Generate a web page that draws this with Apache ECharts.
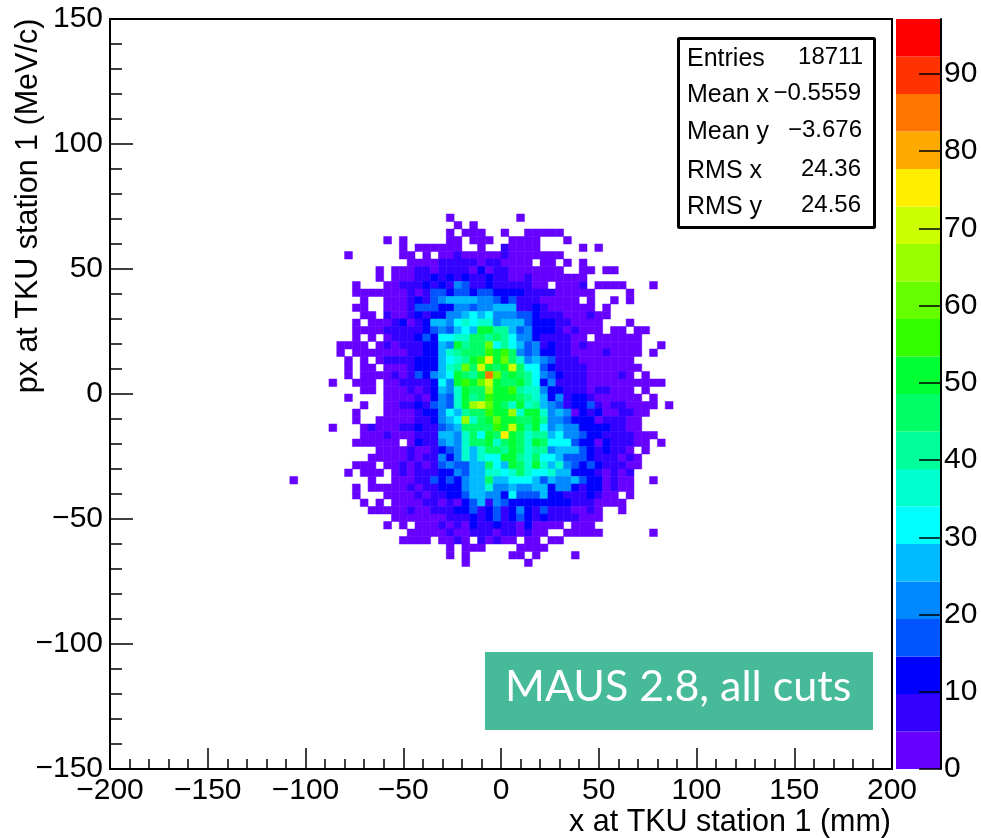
<!DOCTYPE html>
<html>
<head>
<meta charset="utf-8">
<style>html,body{margin:0;padding:0;background:#fff}#c{width:981px;height:838px}</style>
<script src="https://cdn.jsdelivr.net/npm/echarts@6/dist/echarts.min.js"></script>
</head>
<body>
<div id="c"></div>
<script>
const xBinCenters = [-110,-106,-102,-98,-94,-90,-86,-82,-78,-74,-70,-66,-62,-58,-54,-50,-46,-42,-38,-34,-30,-26,-22,-18,-14,-10,-6,-2,2,6,10,14,18,22,26,30,34,38,42,46,50,54,58,62,66,70,74,78,82,86];
const yBinCenters = [70.5,67.5,64.5,61.5,58.5,55.5,52.5,49.5,46.5,43.5,40.5,37.5,34.5,31.5,28.5,25.5,22.5,19.5,16.5,13.5,10.5,7.5,4.5,1.5,-1.5,-4.5,-7.5,-10.5,-13.5,-16.5,-19.5,-22.5,-25.5,-28.5,-31.5,-34.5,-37.5,-40.5,-43.5,-46.5,-49.5,-52.5,-55.5,-58.5,-61.5,-64.5,-67.5];
const counts = [
[0,0,0,0,0,0,0,0,0,0,0,0,0,0,0,0,0,0, 0,0,0,2,0,0,0,0,0,0,0,0,2,0,0,0,0,0, 0,0,0,0,0,0,0,0,0,0,0,0,0,0],
[0,0,0,0,0,0,0,0,0,0,0,0,0,0,0,0,0,0, 0,0,0,0,2,0,2,0,0,0,0,0,0,0,0,0,0,0, 0,0,0,0,0,0,0,0,0,0,0,0,0,0],
[0,0,0,0,0,0,0,0,0,0,0,0,0,0,0,0,0,0, 0,0,0,2,0,2,2,2,0,0,2,0,0,2,2,2,2,2, 0,0,0,0,0,0,0,0,0,0,0,0,0,0],
[0,0,0,0,0,0,0,0,0,0,0,0,0,2,0,2,0,0, 0,0,0,2,2,0,2,2,2,0,0,2,2,2,2,0,0,0, 2,0,0,0,0,0,0,0,0,0,0,0,0,0],
[0,0,0,0,0,0,0,0,0,0,0,0,0,0,0,2,0,2, 2,2,2,2,2,0,0,2,0,0,7,2,2,2,2,0,0,0, 0,0,2,0,2,0,0,0,0,0,0,0,0,0],
[0,0,0,0,0,0,0,0,2,0,0,0,0,0,0,2,2,0, 2,0,2,2,7,2,2,2,2,2,7,2,2,2,2,2,2,2, 0,0,0,0,0,0,0,0,0,0,0,0,0,0],
[0,0,0,0,0,0,0,0,0,0,0,0,0,0,0,0,2,2, 2,2,7,7,7,7,7,2,7,7,2,2,2,2,0,2,2,0, 2,0,2,0,0,0,0,0,0,0,0,0,0,0],
[0,0,0,0,0,0,0,0,0,0,0,0,2,0,2,2,2,7, 7,2,7,7,7,7,2,12,2,7,7,2,2,2,2,2,2,2, 0,0,2,2,0,2,2,0,0,0,0,0,0,0],
[0,0,0,0,0,0,0,0,0,0,0,0,2,0,2,2,2,7, 7,12,7,12,7,12,7,7,12,7,7,2,2,7,2,2,2,2, 2,2,2,0,0,0,0,0,0,0,0,0,0,0],
[0,0,0,0,0,0,0,0,0,2,0,0,0,2,2,7,7,7, 12,7,12,7,22,17,7,7,12,7,7,7,7,7,2,2,0,2, 2,2,7,0,2,2,2,2,0,0,0,2,0,0],
[0,0,0,0,0,0,0,0,0,2,2,2,2,2,2,2,7,2, 7,17,17,12,17,17,12,17,17,12,12,12,12,7,7,7,7,2, 2,2,2,2,0,0,0,0,2,0,0,0,0,0],
[0,0,0,0,0,0,0,0,0,0,2,0,0,2,2,2,7,12, 7,17,22,27,27,27,27,22,22,17,12,17,7,7,7,2,2,2, 2,2,0,2,0,0,2,0,2,0,0,0,0,0],
[0,0,0,0,0,0,0,0,0,2,2,0,0,2,2,2,7,17, 17,17,12,12,22,22,17,22,22,27,27,27,7,7,12,7,2,2, 2,2,2,2,0,2,0,0,0,0,0,0,0,0],
[0,0,0,0,0,0,0,0,0,0,2,2,0,7,2,2,7,12, 7,12,12,22,22,27,32,27,32,22,22,22,17,17,12,7,7,7, 2,2,2,7,2,2,0,0,0,0,0,0,0,0],
[0,0,0,0,0,0,0,0,0,2,0,2,2,2,7,12,2,7, 12,27,27,22,32,36,32,36,36,22,27,27,27,17,12,12,12,7, 7,2,2,2,2,0,0,0,2,0,0,0,0,0],
[0,0,0,0,0,0,0,0,0,2,2,2,2,7,7,7,7,7, 12,17,22,17,27,32,27,51,51,41,41,27,17,22,12,12,12,7, 2,7,2,2,2,0,2,2,0,2,2,0,0,0],
[0,0,0,0,0,0,0,0,0,2,0,2,0,2,7,7,7,12, 17,12,32,32,36,36,46,46,41,46,41,32,22,22,12,7,7,7, 7,2,2,0,2,2,2,2,2,2,0,0,0,0],
[0,0,0,0,0,0,0,2,2,2,2,0,2,7,2,7,7,7, 12,12,27,22,51,41,46,46,61,32,41,32,27,17,22,7,12,7, 7,2,7,2,2,2,2,2,2,2,0,0,2,0],
[0,0,0,0,0,0,0,2,0,2,2,2,2,2,2,2,7,7, 12,12,27,36,41,46,46,46,56,51,56,46,22,17,22,12,12,7, 7,2,2,2,2,7,2,2,2,2,0,2,0,0],
[0,0,0,0,0,0,0,0,2,0,2,0,2,7,7,7,7,12, 12,12,27,32,36,41,51,56,75,51,61,46,36,22,27,22,17,7, 7,7,2,2,2,2,2,2,2,0,0,0,0,0],
[0,0,0,0,0,0,0,0,2,0,2,2,0,2,2,2,7,12, 12,12,27,36,41,61,46,70,51,46,51,70,46,32,32,17,12,7, 7,7,7,2,2,2,2,2,2,2,0,0,0,0],
[0,0,0,0,0,0,0,0,2,0,2,2,2,2,7,2,7,17, 12,22,27,32,51,46,41,51,85,61,46,51,46,41,32,22,17,12, 7,7,7,2,2,2,2,7,2,0,2,0,0,0],
[0,0,0,0,0,0,2,0,0,2,2,2,0,2,2,7,7,7, 7,12,32,22,51,56,51,61,70,51,46,46,51,41,32,12,22,7, 7,7,7,2,2,2,2,2,2,2,2,2,2,0],
[0,0,0,0,0,0,0,0,0,0,2,2,0,2,2,2,7,2, 7,12,27,22,36,51,46,46,66,51,51,56,41,36,36,22,12,12, 7,7,7,2,7,7,2,2,2,0,2,0,0,0],
[0,0,0,0,0,0,0,0,2,0,0,0,0,2,2,2,2,7, 2,12,22,17,36,51,41,46,56,51,51,51,46,41,36,27,12,22, 7,12,12,7,2,2,2,2,2,2,0,2,0,0],
[0,0,0,0,0,0,0,0,0,0,2,0,0,2,2,7,7,12, 7,17,22,17,36,51,66,70,61,51,46,36,51,36,41,27,22,17, 7,12,12,17,7,2,7,7,2,2,2,2,0,2],
[0,0,0,0,0,0,0,0,0,2,0,0,0,2,2,2,2,7, 12,12,22,32,27,41,46,46,56,51,51,66,36,51,51,36,22,27, 22,2,12,7,12,2,2,7,7,2,2,0,0,0],
[0,0,0,0,0,0,0,0,0,2,0,0,2,2,2,2,2,7, 7,12,22,27,32,66,36,46,51,61,51,51,46,46,51,41,22,22, 17,12,12,12,2,7,7,7,2,2,0,0,0,0],
[0,0,0,0,0,0,2,0,0,0,2,7,2,2,2,7,7,12, 7,7,17,22,27,46,46,46,46,56,51,70,51,41,51,32,22,27, 22,22,12,12,12,12,7,7,2,2,0,0,0,0],
[0,0,0,0,0,0,0,0,0,0,2,2,2,7,2,2,2,7, 7,7,27,27,22,36,46,32,51,46,75,51,46,36,41,41,27,32, 22,22,17,12,12,7,7,7,7,2,2,2,0,0],
[0,0,0,0,0,0,0,0,0,2,2,2,2,2,2,0,2,12, 7,7,22,27,22,36,46,46,51,36,46,51,46,36,51,46,32,32, 32,17,12,12,2,12,7,7,7,2,2,0,2,0],
[0,0,0,0,0,0,0,0,0,0,0,0,2,2,2,2,7,2, 2,7,12,17,22,36,27,36,46,46,41,51,46,36,41,41,22,27, 27,27,17,12,7,12,7,7,2,0,2,0,0,0],
[0,0,0,0,0,0,0,0,0,0,0,2,2,2,2,2,7,2, 7,7,22,12,22,36,27,36,32,32,51,51,41,36,46,32,32,27, 17,17,17,12,7,7,7,2,7,2,0,0,0,0],
[0,0,0,0,0,0,0,0,0,2,2,2,0,2,2,7,2,7, 2,7,17,22,17,17,27,27,46,32,27,51,46,36,51,36,27,36, 22,17,12,17,12,7,7,7,2,2,0,0,0,0],
[0,0,0,0,0,0,0,0,2,0,2,2,2,0,2,7,2,7, 7,7,12,12,22,17,27,27,36,36,32,36,46,36,32,32,36,27, 27,12,12,12,7,2,7,2,7,0,0,0,0,0],
[0,2,0,0,0,0,0,0,0,0,0,2,0,0,2,2,2,7, 7,17,12,17,12,22,27,27,46,27,27,32,32,32,27,17,27,22, 22,27,17,12,12,2,7,2,2,0,0,2,0,0],
[0,0,0,0,0,0,0,0,0,2,0,2,2,2,2,2,7,2, 7,7,12,12,12,22,27,27,36,22,22,27,22,22,27,27,12,22, 22,12,7,12,12,2,7,2,2,0,0,0,0,0],
[0,0,0,0,0,0,0,0,0,2,0,0,0,2,2,2,2,7, 2,7,7,12,12,17,27,27,22,22,12,32,17,17,17,27,12,12, 7,7,7,12,7,2,2,0,2,0,0,0,0,0],
[0,0,0,0,0,0,0,0,0,0,2,0,2,0,2,2,2,2, 7,7,2,7,2,12,17,27,7,22,17,12,12,12,12,12,12,12, 12,7,7,7,2,2,2,2,0,0,0,0,0,0],
[0,0,0,0,0,0,0,0,0,0,0,2,2,2,2,2,7,2, 2,7,7,7,12,12,17,7,12,17,7,12,22,12,7,17,7,7, 7,2,2,7,2,0,0,2,0,0,0,0,0,0],
[0,0,0,0,0,0,0,0,0,0,0,0,0,0,2,2,2,2, 2,2,2,7,7,7,12,7,12,17,7,12,17,12,7,12,7,7, 7,7,2,2,2,0,0,0,0,0,0,0,0,0],
[0,0,0,0,0,0,0,0,0,0,0,0,0,2,0,2,0,2, 2,2,7,2,7,2,12,7,7,12,7,7,2,12,2,2,2,2, 0,2,2,2,0,0,0,0,0,0,0,0,0,0],
[0,0,0,0,0,0,0,0,0,0,0,0,0,0,0,0,2,2, 2,2,2,7,2,2,7,7,7,2,7,7,2,7,2,2,0,0, 2,2,2,2,2,0,0,0,0,0,0,2,0,0],
[0,0,0,0,0,0,0,0,0,0,0,0,0,0,0,2,2,2, 2,0,2,2,7,2,0,7,2,7,2,2,0,2,2,0,2,2, 0,0,0,0,0,0,0,0,0,0,0,0,0,0],
[0,0,0,0,0,0,0,0,0,0,0,0,0,0,0,0,0,0, 0,0,0,2,0,2,2,2,0,0,0,0,2,2,2,2,0,0, 0,0,0,0,0,0,0,0,0,0,0,0,0,0],
[0,0,0,0,0,0,0,0,0,0,0,0,0,0,0,0,0,0, 0,0,0,2,0,2,0,0,0,0,0,2,2,0,2,0,0,0, 0,2,0,0,0,0,0,0,0,0,0,0,0,0],
[0,0,0,0,0,0,0,0,0,0,0,0,0,0,0,0,0,0, 0,0,0,0,0,2,0,0,0,0,0,0,0,2,0,0,0,0, 0,0,0,0,0,0,0,0,0,0,0,0,0,0]
];
const paletteColors = ['#6600ff','#3300ff','#0000ff','#0055ff','#0088ff','#00bbff','#00ffff','#00ffcc','#00ff99','#00ff66','#00ff33','#33ff00','#66ff00','#99ff00','#ccff00','#ffee00','#ffaa00','#ff7700','#ff3300','#ff0000'];
const zMax = 97.1;
const statsLabels = ['Entries','Mean x','Mean y','RMS x','RMS y'];
const statsValues = ['18711','\u22120.5559','\u22123.676','24.36','24.56'];
const xTitle = 'x at TKU station 1 (mm)';
const yTitle = 'px at TKU station 1 (MeV/c)';
const noteText = 'MAUS 2.8, all cuts';

const FONT = '"Liberation Sans", Arial, sans-serif';
const levelWidth = zMax / paletteColors.length;
const cellData = [];
counts.forEach((row, r) => row.forEach((v, c) => { if (v > 0) cellData.push([xBinCenters[c], yBinCenters[r], v]); }));
const barData = paletteColors.map((col, i) => [i * levelWidth, (i + 1) * levelWidth, i]);
const fmt = v => String(v).replace('-', '\u2212');
const stats = [];
const rowY = [57, 93, 130, 169, 205];
const valRight = [863, 861, 862, 861, 861];
statsLabels.forEach((t, i) => {
  stats.push({type:'text', left:687, top:rowY[i]-10, z:30, style:{text:t, font:'25px '+FONT, fill:'#000'}});
  stats.push({type:'text', right:981-valRight[i], top:rowY[i]-12, z:30, style:{text:statsValues[i], font:'24px '+FONT, fill:'#000', textAlign:'right'}});
});
const axisBase = {
  axisLine:{show:true, onZero:false, lineStyle:{color:'#000', width:2}},
  axisTick:{show:true, inside:true, lineStyle:{color:'#000', width:1.5}},
  minorTick:{show:true, splitNumber:5, lineStyle:{color:'#000', width:1.5}},
  splitLine:{show:false}, minorSplitLine:{show:false}
};
const chart = echarts.init(document.getElementById('c'), null, {renderer:'canvas'});
chart.setOption({
  animation:false,
  backgroundColor:'#fff',
  grid:[
    {left:110, top:19, width:782, height:750, show:true, borderColor:'#000', borderWidth:2, backgroundColor:'#fff', outerBoundsMode:'none', containLabel:false},
    {left:896, top:19, width:45, height:750, show:false, outerBoundsMode:'none', containLabel:false}
  ],
  xAxis:[
    Object.assign({}, axisBase, {
      gridIndex:0, type:'value', min:-200, max:200, interval:50,
      axisTick:Object.assign({}, axisBase.axisTick, {length:21}),
      minorTick:Object.assign({}, axisBase.minorTick, {length:10}),
      axisLabel:{color:'#000', fontFamily:FONT, fontSize:30, margin:7, formatter:fmt, hideOverlap:false},
      name:xTitle, nameLocation:'middle', nameGap:38, nameMoveOverlap:false,
      nameTextStyle:{color:'#000', fontFamily:FONT, fontSize:30.5, padding:[0,0,0,458]}
    }),
    {gridIndex:1, type:'value', min:0, max:1, show:false}
  ],
  yAxis:[
    Object.assign({}, axisBase, {
      gridIndex:0, type:'value', min:-150, max:150, interval:50,
      axisTick:Object.assign({}, axisBase.axisTick, {length:23}),
      minorTick:Object.assign({}, axisBase.minorTick, {length:12}),
      axisLabel:{color:'#000', fontFamily:FONT, fontSize:30, margin:7, formatter:fmt, hideOverlap:false},
      name:yTitle, nameLocation:'middle', nameGap:66, nameRotate:90, nameMoveOverlap:false,
      nameTextStyle:{color:'#000', fontFamily:FONT, fontSize:30.5, padding:[0,0,0,376]}
    }),
    {
      gridIndex:1, type:'value', min:0, max:zMax, interval:10, position:'right', z:10,
      axisLine:{show:true, onZero:false, lineStyle:{color:'#000', width:2}},
      axisTick:{show:true, inside:true, length:22, lineStyle:{color:'#000', width:1.5}},
      minorTick:{show:false}, splitLine:{show:false},
      axisLabel:{color:'#000', fontFamily:FONT, fontSize:30, margin:3, showMaxLabel:false}
    }
  ],
  series:[
    {
      type:'custom', xAxisIndex:0, yAxisIndex:0, coordinateSystem:'cartesian2d', clip:true, silent:true,
      encode:{x:0, y:1}, data:cellData,
      renderItem:(p, api) => {
        const c = api.coord([api.value(0), api.value(1)]);
        const s = api.size([4, 3]);
        const lvl = Math.min(paletteColors.length - 1, Math.floor(api.value(2) / levelWidth));
        const col = paletteColors[lvl];
        return {type:'rect', shape:{x:c[0]-s[0]/2, y:c[1]-s[1]/2, width:s[0], height:s[1]}, style:{fill:col, stroke:col, lineWidth:0.5}};
      }
    },
    {
      type:'custom', xAxisIndex:1, yAxisIndex:1, coordinateSystem:'cartesian2d', silent:true, z:1,
      encode:{y:[0,1]}, data:barData,
      renderItem:(p, api) => {
        const a = api.coord([0, api.value(0)]);
        const b = api.coord([1, api.value(1)]);
        return {type:'rect', shape:{x:a[0], y:b[1], width:b[0]-a[0], height:a[1]-b[1]}, style:{fill:paletteColors[api.value(2)]}};
      }
    }
  ],
  graphic:[
    {type:'rect', left:677, top:37, z:20, shape:{width:196, height:189, r:1}, style:{fill:'#fff', stroke:'#000', lineWidth:3}},
    {type:'rect', left:485, top:652, z:20, shape:{width:388, height:78}, style:{fill:'#46ba99'}},
    {type:'text', left:505, top:666, z:30, style:{text:noteText, font:'400 43px Lato, sans-serif', fill:'#fff'}}
  ].concat(stats)
});
</script>
</body>
</html>
